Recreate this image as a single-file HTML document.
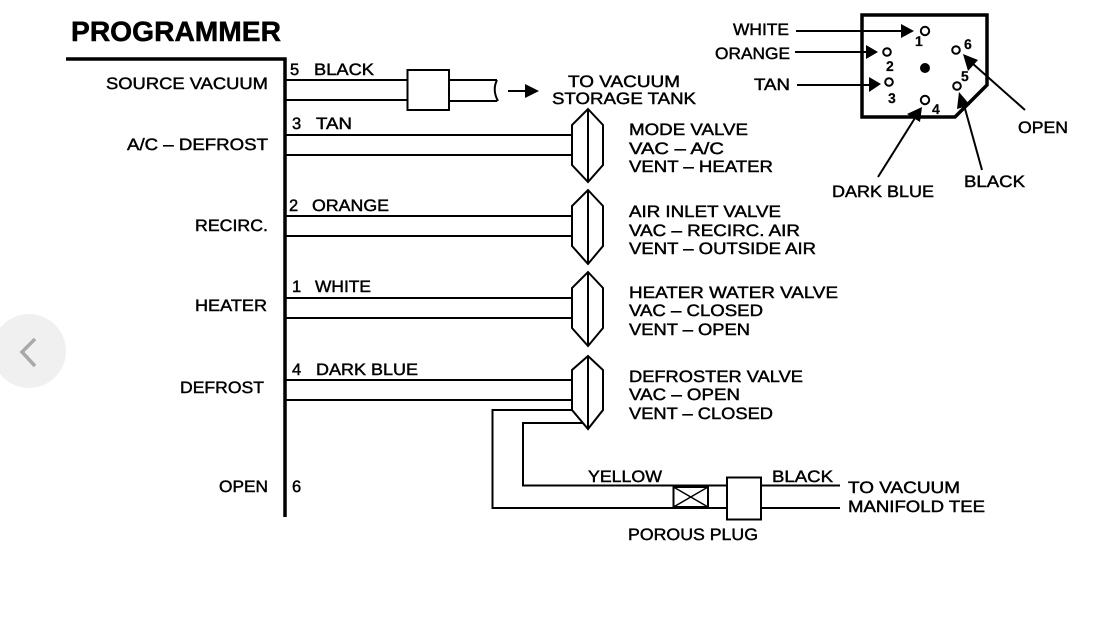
<!DOCTYPE html>
<html lang="en">
<head>
<meta charset="utf-8">
<title>Programmer vacuum diagram</title>
<style>
html,body{margin:0;padding:0;background:#fff;width:1100px;height:632px;overflow:hidden}
svg{display:block}
text{font-family:"Liberation Sans",Arial,sans-serif;font-size:16.5px;fill:#000;stroke:#000;stroke-width:.45;text-rendering:geometricPrecision}
.t{font-weight:bold;font-size:28px;stroke-width:.5}
.n{font-size:14px;font-weight:bold;stroke-width:.2}
.l{fill:none;stroke:#000;stroke-width:2}
.v{fill:#fff;stroke:#000;stroke-width:2;stroke-linejoin:miter}
.p{fill:#fff;stroke:#000;stroke-width:2}
.h{fill:#000;stroke:none}
</style>
</head>
<body>
<svg xmlns="http://www.w3.org/2000/svg" width="1100" height="632" viewBox="0 0 1100 632">
<rect width="1100" height="632" fill="#fff"/>
<circle cx="29" cy="351" r="37" fill="#f0f0f0"/>
<path d="M35 339 L22 352 L35 366" fill="none" stroke="#a9a9a9" stroke-width="3.500"/>

<text class="t" x="71" y="41" textLength="210" lengthAdjust="spacingAndGlyphs">PROGRAMMER</text>
<path d="M66 59 H285 V517" fill="none" stroke="#000" stroke-width="3.500"/>

<text x="106" y="89" textLength="162" lengthAdjust="spacingAndGlyphs">SOURCE VACUUM</text>
<text x="127" y="150" textLength="141" lengthAdjust="spacingAndGlyphs">A/C – DEFROST</text>
<text x="195" y="231" textLength="73" lengthAdjust="spacingAndGlyphs">RECIRC.</text>
<text x="195" y="311" textLength="72" lengthAdjust="spacingAndGlyphs">HEATER</text>
<text x="180" y="393" textLength="84" lengthAdjust="spacingAndGlyphs">DEFROST</text>
<text x="219" y="492" textLength="49" lengthAdjust="spacingAndGlyphs">OPEN</text>
<text x="292" y="492" font-size="15">6</text>

<text x="290" y="75">5</text><text x="314" y="75" textLength="60" lengthAdjust="spacingAndGlyphs">BLACK</text>
<text x="292" y="129">3</text><text x="316" y="129" textLength="36" lengthAdjust="spacingAndGlyphs">TAN</text>
<text x="289" y="211">2</text><text x="312" y="211" textLength="77" lengthAdjust="spacingAndGlyphs">ORANGE</text>
<text x="292" y="292">1</text><text x="315" y="292" textLength="56" lengthAdjust="spacingAndGlyphs">WHITE</text>
<text x="292" y="375">4</text><text x="316" y="375" textLength="102" lengthAdjust="spacingAndGlyphs">DARK BLUE</text>

<!-- source vacuum lines -->
<path class="l" d="M285 80 H407 M285 100 H407 M449 80 H497 M449 101 H497"/>
<path class="l" d="M497 80 Q492 90 498 101"/>
<rect class="p" x="407.500" y="70" width="41.500" height="40"/>
<path class="l" d="M508 91 H526"/>
<path class="h" d="M525 84 L539 91 L525 98 Z"/>
<text x="568" y="87" textLength="112" lengthAdjust="spacingAndGlyphs">TO VACUUM</text>
<text x="552" y="104" textLength="144" lengthAdjust="spacingAndGlyphs">STORAGE TANK</text>

<!-- hose lines -->
<path class="l" d="M285 135 H572 M285 155 H572 M285 216 H572 M285 236 H572 M285 298 H572 M285 318 H572 M285 380 H572 M285 400 H572"/>

<!-- valves -->
<path class="v" d="M588 109 L603 125 V165 L588 182 L572 165 V125 Z M588 109 V182"/>
<path class="v" d="M588 190 L603 206 V246 L588 264 L572 246 V206 Z M588 190 V264"/>
<path class="v" d="M588 272 L603 288 V328 L588 346 L572 328 V288 Z M588 272 V346"/>
<path class="v" d="M588 356 L603 370 V410 L588 429 L572 410 V370 Z M588 356 V429"/>

<!-- valve labels -->
<text x="629" y="135" textLength="119" lengthAdjust="spacingAndGlyphs">MODE VALVE</text>
<text x="629" y="154" textLength="95" lengthAdjust="spacingAndGlyphs">VAC – A/C</text>
<text x="629" y="172" textLength="144" lengthAdjust="spacingAndGlyphs">VENT – HEATER</text>
<text x="629" y="217" textLength="152" lengthAdjust="spacingAndGlyphs">AIR INLET VALVE</text>
<text x="629" y="236" textLength="171" lengthAdjust="spacingAndGlyphs">VAC – RECIRC. AIR</text>
<text x="629" y="254" textLength="187" lengthAdjust="spacingAndGlyphs">VENT – OUTSIDE AIR</text>
<text x="629" y="298" textLength="209" lengthAdjust="spacingAndGlyphs">HEATER WATER VALVE</text>
<text x="629" y="316" textLength="134" lengthAdjust="spacingAndGlyphs">VAC – CLOSED</text>
<text x="629" y="335" textLength="121" lengthAdjust="spacingAndGlyphs">VENT – OPEN</text>
<text x="629" y="382" textLength="174" lengthAdjust="spacingAndGlyphs">DEFROSTER VALVE</text>
<text x="629" y="400" textLength="111" lengthAdjust="spacingAndGlyphs">VAC – OPEN</text>
<text x="629" y="419" textLength="144" lengthAdjust="spacingAndGlyphs">VENT – CLOSED</text>

<!-- bottom plumbing -->
<path class="l" d="M572 410 H492.500 V508 H727 M583 423 H523 V485.500 H727 M761 485.500 H840 M761 508 H840"/>
<rect class="p" x="673.500" y="487" width="34.500" height="20"/>
<path d="M673.500 487 L708 507 M708 487 L673.500 507" fill="none" stroke="#000" stroke-width="1.500"/>
<rect class="p" x="727" y="477.500" width="34" height="42"/>
<text x="588" y="482" textLength="74" lengthAdjust="spacingAndGlyphs">YELLOW</text>
<text x="772" y="482" textLength="61" lengthAdjust="spacingAndGlyphs">BLACK</text>
<text x="848" y="493" textLength="112" lengthAdjust="spacingAndGlyphs">TO VACUUM</text>
<text x="848" y="512" textLength="137" lengthAdjust="spacingAndGlyphs">MANIFOLD TEE</text>
<text x="628" y="540" textLength="130" lengthAdjust="spacingAndGlyphs">POROUS PLUG</text>

<!-- connector -->
<path d="M862 15 H987 V85 L955 117 H862 Z" fill="none" stroke="#000" stroke-width="3.500"/>
<circle class="p" cx="925" cy="31" r="4.200"/>
<circle class="p" cx="887" cy="52" r="3.800"/>
<circle class="p" cx="889" cy="82" r="3.800"/>
<circle class="p" cx="925" cy="100" r="4.200"/>
<circle class="p" cx="957" cy="86" r="3.800"/>
<circle class="p" cx="956" cy="50" r="3.800"/>
<circle class="h" cx="925" cy="68" r="5"/>
<text class="n" x="915" y="46">1</text>
<text class="n" x="886" y="71">2</text>
<text class="n" x="888" y="103">3</text>
<text class="n" x="932" y="114">4</text>
<text class="n" x="961" y="81">5</text>
<text class="n" x="964" y="49">6</text>

<path class="l" d="M796 31 H903 M795 52 H868 M797 85 H870"/>
<path class="h" d="M901 24 L914 31 L901 38 Z"/>
<path class="h" d="M866 45 L878 52 L866 59 Z"/>
<path class="h" d="M869 77 L881 84 L869 92 Z"/>
<path class="l" d="M878 177 L915 118"/>
<path class="h" d="M922 107 L920 122 L907 114 Z"/>
<path class="l" d="M982 170 L964 105"/>
<path class="h" d="M959 92 L970 105 L957 109 Z"/>
<path class="l" d="M1025 110 L972 63"/>
<path class="h" d="M963 54 L978 60 L968 71 Z"/>

<text x="733" y="35" textLength="56" lengthAdjust="spacingAndGlyphs">WHITE</text>
<text x="715" y="59" textLength="75" lengthAdjust="spacingAndGlyphs">ORANGE</text>
<text x="754" y="90" textLength="36" lengthAdjust="spacingAndGlyphs">TAN</text>
<text x="1018" y="133" textLength="50" lengthAdjust="spacingAndGlyphs">OPEN</text>
<text x="832" y="197" textLength="102" lengthAdjust="spacingAndGlyphs">DARK BLUE</text>
<text x="964" y="187" textLength="61" lengthAdjust="spacingAndGlyphs">BLACK</text>
</svg>
</body>
</html>
